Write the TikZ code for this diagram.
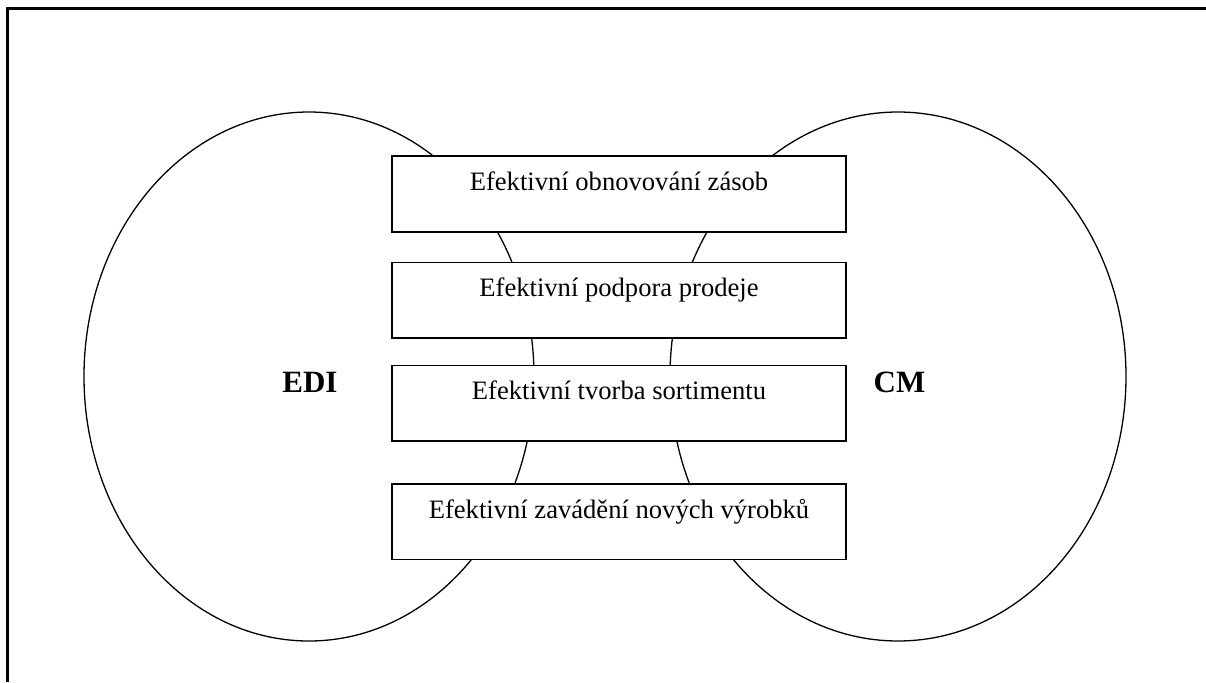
\documentclass[tikz,border=0pt]{standalone}
\usepackage{fontspec}
\setmainfont{Liberation Serif}
\usetikzlibrary{positioning,shapes.geometric}

\begin{document}
\begin{tikzpicture}[x=0.5pt,y=-0.5pt,
  oval/.style={ellipse,draw,line width=0.65pt,inner sep=0pt,minimum height=264.5pt},
  box/.style={rectangle,draw,fill=white,line width=0.8pt,inner sep=0pt,minimum width=227pt,minimum height=37.8pt},
  boxtext/.style={anchor=base,font=\fontsize{13.3}{16}\selectfont},
  title/.style={anchor=base,font=\fontsize{15.5}{18}\selectfont\bfseries}]

\useasboundingbox (0,0) rectangle (1206,682);

% frame
\draw[line width=1.5pt] (7.5,682) -- (7.5,8) -- (1206,8);

\node[oval,minimum width=225pt] (edi) at (309,376.5) {};
\node[oval,minimum width=228pt] (cm) at (898,376.5) {};

\node[title] (ediname) at (310,392) {EDI};
\node[title] (cmname) at (899.5,392) {CM};

\node[box] (b1) at (619,194) {};
\node[box,below=14.5pt of b1] (b2) {};
\node[box,below=13pt of b2] (b3) {};
\node[box,below=20.5pt of b3] (b4) {};

\node[boxtext] (t1) at ([yshift=-17.5pt]b1.north) {Efektivní obnovování zásob};
\node[boxtext] (t2) at ([yshift=-17.5pt]b2.north) {Efektivní podpora prodeje};
\node[boxtext] (t3) at ([yshift=-17.5pt]b3.north) {Efektivní tvorba sortimentu};
\node[boxtext] (t4) at ([yshift=-17.5pt]b4.north) {Efektivní zavádění nových výrobků};

\end{tikzpicture}
\end{document}
